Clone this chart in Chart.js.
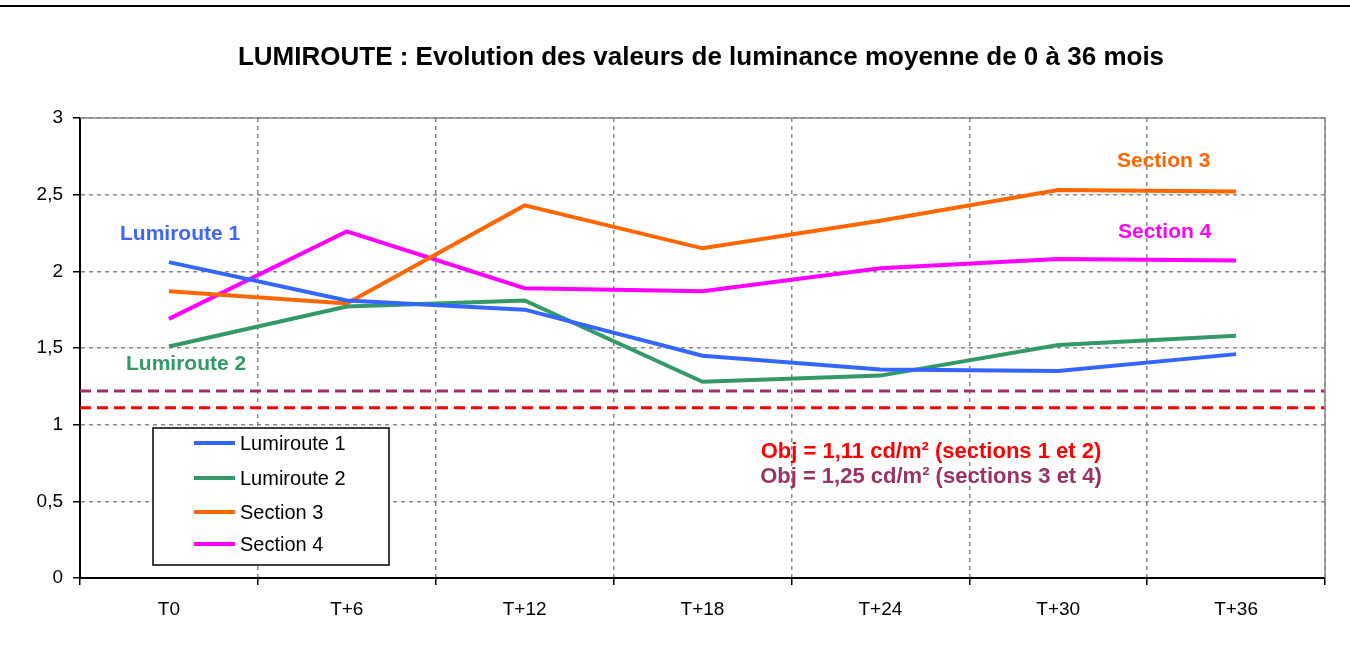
<!DOCTYPE html>
<html>
<head>
<meta charset="utf-8">
<script src="https://cdn.jsdelivr.net/npm/chart.js@4/dist/chart.umd.min.js"></script>
<style>
  html, body { margin: 0; padding: 0; background: #fff; }
  #wrap { width: 1350px; height: 652px; }
</style>
</head>
<body>
<div id="wrap"><canvas id="chart"></canvas></div>
<script>
// valeurs
const periodes = ['T0', 'T+6', 'T+12', 'T+18', 'T+24', 'T+30', 'T+36'];
const lumiroute1 = [2.06, 1.81, 1.75, 1.45, 1.36, 1.35, 1.46];
const lumiroute2 = [1.51, 1.77, 1.81, 1.28, 1.32, 1.52, 1.58];
const section3 = [1.87, 1.79, 2.43, 2.15, 2.33, 2.53, 2.52];
const section4 = [1.69, 2.26, 1.89, 1.87, 2.02, 2.08, 2.07];
const objectifs = [1.22, 1.11]; // lignes pointillées
const yTicks = [0, 0.5, 1, 1.5, 2, 2.5, 3];

const FONT = 'Arial, "Liberation Sans", sans-serif';

// titre, cadre, lignes objectif, légende, étiquettes
const decor = {
  id: 'decor',
  beforeDatasetsDraw(chart) {
    const c = chart.ctx, a = chart.chartArea, y = chart.scales.y;
    c.save();
    c.lineWidth = 3;
    c.setLineDash([11, 6]);
    [['#993366', objectifs[0]], ['#ff0000', objectifs[1]]].forEach(function (o) {
      const py = y.getPixelForValue(o[1]);
      c.strokeStyle = o[0];
      c.beginPath();
      c.moveTo(a.left, py);
      c.lineTo(a.right, py);
      c.stroke();
    });
    c.restore();
  },
  afterDraw(chart) {
    const c = chart.ctx, a = chart.chartArea;
    c.save();
    // trait en haut
    c.strokeStyle = '#000';
    c.lineWidth = 2;
    c.beginPath();
    c.moveTo(0, 6); c.lineTo(1350, 6);
    c.stroke();
    // cadre haut / droite
    c.strokeStyle = '#888';
    c.lineWidth = 1.5;
    c.beginPath();
    c.moveTo(a.left, a.top); c.lineTo(a.right, a.top); c.lineTo(a.right, a.bottom);
    c.stroke();
    // titre
    c.fillStyle = '#000';
    c.font = 'bold 26px ' + FONT;
    c.textAlign = 'center';
    c.textBaseline = 'middle';
    c.fillText('LUMIROUTE : Evolution des valeurs de luminance moyenne de 0 à 36 mois', 701, 58);

    // étiquettes des séries
    c.font = 'bold 21px ' + FONT;
    c.textAlign = 'left';
    c.fillStyle = '#3d66ff'; c.fillText('Lumiroute 1', 120, 234);
    c.fillStyle = '#339966'; c.fillText('Lumiroute 2', 126, 364);
    c.fillStyle = '#ff6600'; c.fillText('Section 3', 1117, 161);
    c.fillStyle = '#ff00ff'; c.fillText('Section 4', 1118, 232);
    c.font = 'bold 22px ' + FONT;
    c.textAlign = 'center';
    c.fillStyle = '#ff0000'; c.fillText('Obj = 1,11 cd/m² (sections 1 et 2)', 931, 452);
    c.fillStyle = '#993366'; c.fillText('Obj = 1,25 cd/m² (sections 3 et 4)', 931, 477);

    // légende
    c.fillStyle = '#fff';
    c.fillRect(153, 428, 236, 137);
    c.strokeStyle = '#000';
    c.lineWidth = 1.5;
    c.strokeRect(153, 428, 236, 137);
    c.font = '20px ' + FONT;
    c.textAlign = 'left';
    const rows = [443, 478, 512, 544];
    chart.data.datasets.forEach(function (ds, i) {
      const ly = rows[i];
      c.strokeStyle = ds.borderColor;
      c.lineWidth = 4;
      c.beginPath();
      c.moveTo(194, ly); c.lineTo(235, ly);
      c.stroke();
      c.fillStyle = '#000';
      c.fillText(ds.label, 240, ly + 1);
    });
    c.restore();
  }
};

const ctx = document.getElementById('chart');
new Chart(ctx, {
  type: 'line',
  data: {
    labels: periodes,
    datasets: [
      { label: 'Lumiroute 1', data: lumiroute1, borderColor: '#3366ff' },
      { label: 'Lumiroute 2', data: lumiroute2, borderColor: '#339966' },
      { label: 'Section 3', data: section3, borderColor: '#ff6600' },
      { label: 'Section 4', data: section4, borderColor: '#ff00ff' }
    ]
  },
  options: {
    responsive: true,
    maintainAspectRatio: false,
    animation: false,
    elements: {
      line: { borderWidth: 4, tension: 0 },
      point: { radius: 0 }
    },
    layout: { padding: { left: 0, right: 25, top: 118, bottom: 0 } },
    plugins: {
      legend: { display: false },
      title: { display: false },
      tooltip: { enabled: false }
    },
    scales: {
      x: {
        offset: true,
        grid: {
          offset: true,
          color: '#888',
          tickBorderDash: [],
          tickColor: '#000',
          tickLength: 7,
          lineWidth: 1.5
        },
        border: { color: '#000', width: 2, dash: [4, 4] },
        ticks: { color: '#000', font: { family: FONT, size: 19 }, padding: 13 },
        afterFit(scale) { scale.height = 74; }
      },
      y: {
        min: 0,
        max: 3,
        afterBuildTicks(scale) { scale.ticks = yTicks.map(function (v) { return { value: v }; }); },
        grid: {
          color: '#888',
          tickBorderDash: [],
          tickColor: '#000',
          tickLength: 7,
          lineWidth: 1.5
        },
        border: { color: '#000', width: 2, dash: [4, 4] },
        ticks: {
          color: '#000',
          font: { family: FONT, size: 19 },
          padding: 10,
          callback: function (v) { return String(v).replace('.', ','); }
        },
        afterFit(scale) { scale.width = 80; }
      }
    }
  },
  plugins: [decor]
});
</script>
</body>
</html>
